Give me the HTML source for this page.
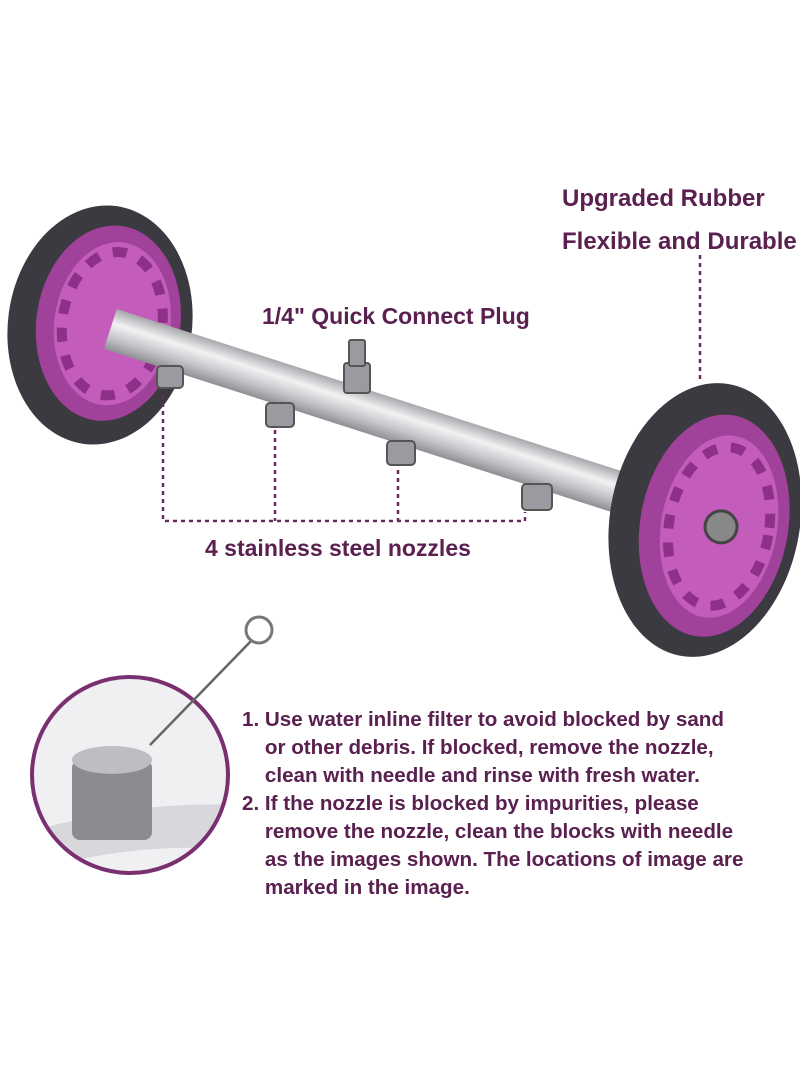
<!DOCTYPE html>
<html><head><meta charset="utf-8"><style>
body{margin:0;background:#fff;width:800px;height:1092px;overflow:hidden;position:relative;font-family:"Liberation Sans",sans-serif}
.t{position:absolute;color:#5a2050;font-weight:bold;white-space:nowrap;transform-origin:left top;transform:scaleX(1.0)}
</style></head><body>
<svg width="800" height="1092" style="position:absolute;left:0;top:0">
<defs>
<linearGradient id="tube" x1="0" y1="0" x2="0" y2="1">
<stop offset="0" stop-color="#a8a8ac"/><stop offset="0.35" stop-color="#f2f2f4"/><stop offset="0.7" stop-color="#c4c4c8"/><stop offset="1" stop-color="#8e8e94"/></linearGradient>
<clipPath id="cc"><circle cx="130" cy="775" r="96"/></clipPath>
</defs>
<g transform="rotate(8 100 325)">
<ellipse cx="100" cy="325" rx="92" ry="120" fill="#3b3a40"/>
<ellipse cx="108" cy="322" rx="72" ry="98" fill="#a0429a"/>
<ellipse cx="112" cy="322" rx="58" ry="82" fill="#c35cbb"/>
<ellipse cx="112" cy="322" rx="50" ry="72" fill="none" stroke="#8e3088" stroke-width="10" stroke-dasharray="14 14"/>
</g>
<g transform="rotate(17.8 110 330)">
<rect x="110" y="308" width="545" height="42" fill="url(#tube)"/>
</g>
<g fill="#9a9aa0" stroke="#555" stroke-width="2">
<rect x="157" y="366" width="26" height="22" rx="4"/>
<rect x="266" y="403" width="28" height="24" rx="4"/>
<rect x="387" y="441" width="28" height="24" rx="4"/>
<rect x="522" y="484" width="30" height="26" rx="4"/>
<rect x="344" y="363" width="26" height="30" rx="3"/>
<rect x="349" y="340" width="16" height="26" rx="2"/>
</g>
<g transform="rotate(10 705 520)">
<ellipse cx="705" cy="520" rx="95" ry="138" fill="#3b3a40"/>
<ellipse cx="715" cy="524" rx="74" ry="112" fill="#a0429a"/>
<ellipse cx="720" cy="524" rx="58" ry="92" fill="#c35cbb"/>
<ellipse cx="720" cy="524" rx="50" ry="80" fill="none" stroke="#8e3088" stroke-width="10" stroke-dasharray="14 14"/>
<circle cx="722" cy="524" r="16" fill="#888" stroke="#444" stroke-width="3"/>
</g>
<g stroke="#6a2a5e" stroke-width="2.5" stroke-dasharray="4 4" fill="none">
<path d="M700 255V382"/>
<path d="M163 395V521H525V512"/>
<path d="M275 430V521"/>
<path d="M398 470V521"/>
</g>
<circle cx="130" cy="775" r="98" fill="#f0eff1"/>
<g clip-path="url(#cc)">
<path d="M20 835 Q130 800 240 805 L240 850 Q130 840 20 875Z" fill="#d8d8dc"/>
<rect x="72" y="760" width="80" height="80" rx="8" fill="#8a8a90"/>
<ellipse cx="112" cy="760" rx="40" ry="14" fill="#bdbdc2"/>
</g>
<circle cx="130" cy="775" r="98" fill="none" stroke="#7a3070" stroke-width="4"/>
<line x1="150" y1="745" x2="252" y2="640" stroke="#666" stroke-width="2.5"/>
<circle cx="259" cy="630" r="13" fill="none" stroke="#777" stroke-width="3"/>
</svg>
<div class="t" style="left:562px;top:185px;font-size:24px">Upgraded Rubber</div>
<div class="t" style="left:562px;top:228px;font-size:24px">Flexible and Durable</div>
<div class="t" style="left:262px;top:303px;font-size:23px">1/4" Quick Connect Plug</div>
<div class="t" style="left:205px;top:535px;font-size:23px">4 stainless steel nozzles</div>
<div class="t" style="left:242px;top:706px;font-size:20px;line-height:28px;transform:scaleX(1.03)">1. Use water inline filter to avoid blocked by sand<br>&nbsp;&nbsp;&nbsp;&nbsp;or other debris. If blocked, remove the nozzle,<br>&nbsp;&nbsp;&nbsp;&nbsp;clean with needle and rinse with fresh water.<br>2. If the nozzle is blocked by impurities, please<br>&nbsp;&nbsp;&nbsp;&nbsp;remove the nozzle, clean the blocks with needle<br>&nbsp;&nbsp;&nbsp;&nbsp;as the images shown. The locations of image are<br>&nbsp;&nbsp;&nbsp;&nbsp;marked in the image.</div>
</body></html>
